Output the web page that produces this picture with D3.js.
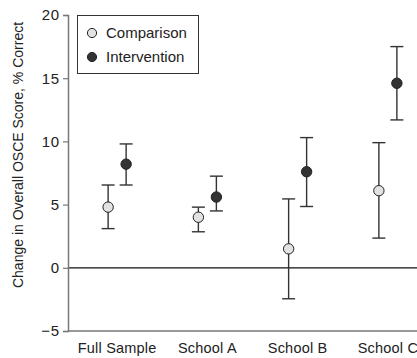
<!DOCTYPE html>
<html lang="en">
<head>
<meta charset="UTF-8">
<title>OSCE score change</title>
<script src="https://d3js.org/d3.v7.min.js"></script>
<style>
    body { margin: 0; background: #fff; }
    text { font-family: "Liberation Sans", Arial, sans-serif; fill: #222; }
</style>
</head>
<body>
<svg width="417" height="358"></svg>
<script>
    // data
    const groups = ["Full Sample", "School A", "School B", "School C"];
    const comparisonMean = [4.8, 4.0, 1.5, 6.1];
    const comparisonLow = [3.1, 2.85, -2.45, 2.35];
    const comparisonHigh = [6.55, 4.8, 5.45, 9.9];
    const interventionMean = [8.2, 5.6, 7.6, 14.6];
    const interventionLow = [6.55, 4.5, 4.85, 11.7];
    const interventionHigh = [9.8, 7.25, 10.3, 17.5];
    const yTicks = [-5, 0, 5, 10, 15, 20];

    const svg = d3.select("svg");
    const plotLeft = 68, plotRight = 431, plotTop = 15, plotBottom = 331;

    const x = d3.scaleBand().domain(groups).range([plotLeft + 4, plotRight + 2]);
    const y = d3.scaleLinear().domain([-5, 20]).range([plotBottom, plotTop]);

    const series = [
        { name: "Comparison", mean: comparisonMean, lo: comparisonLow, hi: comparisonHigh, dx: -9, fill: "#e2e2e2" },
        { name: "Intervention", mean: interventionMean, lo: interventionLow, hi: interventionHigh, dx: 9, fill: "#333" }
    ];

    // zero line
    svg.append("line")
        .attr("x1", plotLeft).attr("x2", 417)
        .attr("y1", y(0)).attr("y2", y(0))
        .attr("stroke", "#111").attr("stroke-width", 1.2);

    // y axis
    const yAxis = svg.append("g")
        .attr("transform", `translate(${plotLeft},0)`)
        .call(d3.axisLeft(y).tickValues(yTicks).tickSize(5).tickPadding(3)
            .tickFormat(d => d < 0 ? "\u2212" + Math.abs(d) : d));
    yAxis.select(".domain").attr("stroke", "#777").attr("stroke-width", 1.5);
    yAxis.selectAll(".tick line").attr("stroke", "#777").attr("stroke-width", 1.2);
    yAxis.selectAll("text").attr("font-size", 15).attr("fill", "#222")
        .attr("letter-spacing", 0.8)
        .style("font-family", "Liberation Sans, Arial, sans-serif");

    // bottom axis line
    svg.append("line")
        .attr("x1", plotLeft).attr("x2", 417)
        .attr("y1", plotBottom).attr("y2", plotBottom)
        .attr("stroke", "#777").attr("stroke-width", 1.5);

    // category labels
    svg.append("g").selectAll("text")
        .data(groups)
        .enter().append("text")
        .attr("x", d => x(d) + x.bandwidth() / 2)
        .attr("y", 353)
        .attr("text-anchor", "middle")
        .attr("font-size", 14.5)
        .attr("letter-spacing", 0.2)
        .text(d => d);

    // y title
    svg.append("text")
        .attr("transform", "translate(23,155) rotate(-90)")
        .attr("text-anchor", "middle")
        .attr("font-size", 14)
        .text("Change in Overall OSCE Score, % Correct");

    // error bars and points
    series.forEach(s => {
        const g = svg.append("g");
        const cx = d => x(groups[d.i]) + x.bandwidth() / 2 + s.dx;
        const rows = groups.map((gname, i) => ({ i, mean: s.mean[i], lo: s.lo[i], hi: s.hi[i] }));

        g.selectAll(".stem").data(rows).enter().append("line")
            .attr("x1", cx).attr("x2", cx)
            .attr("y1", d => y(d.lo)).attr("y2", d => y(d.hi))
            .attr("stroke", "#333").attr("stroke-width", 1.4);

        ["lo", "hi"].forEach(k => {
            g.selectAll(".cap-" + k).data(rows).enter().append("line")
                .attr("x1", d => cx(d) - 6.5).attr("x2", d => cx(d) + 6.5)
                .attr("y1", d => y(d[k])).attr("y2", d => y(d[k]))
                .attr("stroke", "#333").attr("stroke-width", 1.4);
        });

        g.selectAll("circle").data(rows).enter().append("circle")
            .attr("cx", cx)
            .attr("cy", d => y(d.mean))
            .attr("r", 5.2)
            .attr("fill", s.fill)
            .attr("stroke", "#222")
            .attr("stroke-width", 1);
    });

    // legend
    const legend = svg.append("g");
    legend.append("rect")
        .attr("x", 77.5).attr("y", 15.5)
        .attr("width", 121).attr("height", 58)
        .attr("fill", "#fff").attr("stroke", "#333").attr("stroke-width", 1);
    series.forEach((s, i) => {
        const ly = 33 + i * 24;
        legend.append("circle")
            .attr("cx", 92).attr("cy", ly).attr("r", 4.6)
            .attr("fill", s.fill).attr("stroke", "#222").attr("stroke-width", 1);
        legend.append("text")
            .attr("x", 106).attr("y", ly + 5)
            .attr("font-size", 15)
            .text(s.name);
    });
</script>
</body>
</html>
